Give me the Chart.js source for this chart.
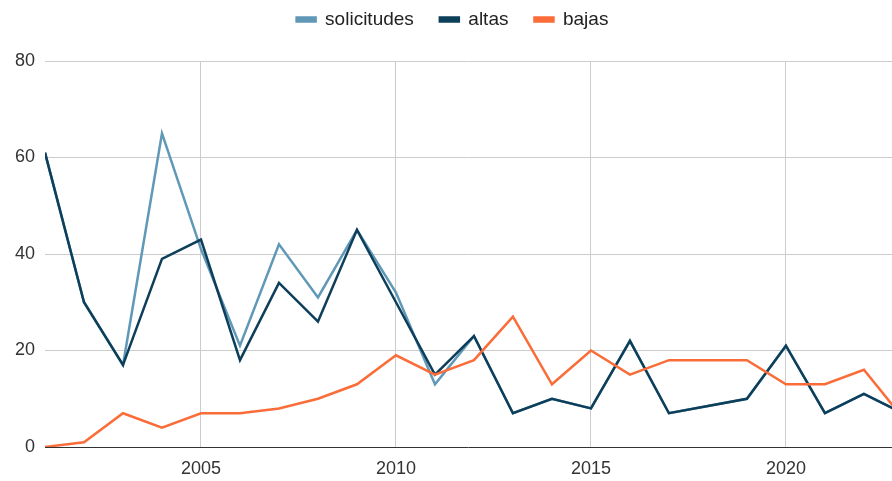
<!DOCTYPE html>
<html lang="es">
<head>
    <meta charset="UTF-8">
    <title>solicitudes, altas y bajas</title>
    <script src="https://cdn.jsdelivr.net/npm/chart.js@4.4.3/dist/chart.umd.min.js"></script>
    <style>
        * { margin: 0; padding: 0; }
        html, body { width: 892px; height: 481px; background: #fff; overflow: hidden; }
        .chartBox { width: 892px; height: 481px; }
    </style>
</head>
<body>
<div class="chartBox">
    <canvas id="myChart"></canvas>
</div>
<script>
    const years = [2001, 2002, 2003, 2004, 2005, 2006, 2007, 2008, 2009, 2010, 2011, 2012,
                   2013, 2014, 2015, 2016, 2017, 2018, 2019, 2020, 2021, 2022, 2023];
    const solicitudes = [61, 30, 17, 65, 41, 21, 42, 31, 45, 32, 13, 23,
                         7, 10, 8, 22, 7, 8.5, 10, 21, 7, 11, 7];
    const altas = [61, 30, 17, 39, 43, 18, 34, 26, 45, 30, 15, 23,
                   7, 10, 8, 22, 7, 8.5, 10, 21, 7, 11, 7];
    const bajas = [0, 1, 7, 4, 7, 7, 8, 10, 13, 19, 15, 18,
                   27, 13, 20, 15, 18, 18, 18, 13, 13, 16, 6];
    const xTicks = [2005, 2010, 2015, 2020];
    const yTicks = [0, 20, 40, 60, 80];

    const toPoints = (vals) => years.map((y, i) => ({ x: y, y: vals[i] }));

    // order: lower number is drawn on top
    const line = (label, vals, color, order) => ({
        label: label,
        data: toPoints(vals),
        borderColor: color,
        backgroundColor: color,
        borderWidth: 2.5,
        pointRadius: 0,
        pointHoverRadius: 0,
        tension: 0,
        order: order
    });

    // extra space under the legend
    const legendMargin = {
        id: 'legendMargin',
        beforeInit(chart) {
            const fit = chart.legend.fit;
            chart.legend.fit = function () {
                fit.bind(chart.legend)();
                this.height += 22;
            };
        }
    };

    Chart.defaults.font.family = "'Liberation Sans', Arial, sans-serif";
    Chart.defaults.color = '#333';

    new Chart(document.getElementById('myChart'), {
        type: 'line',
        data: {
            datasets: [
                line('solicitudes', solicitudes, '#6098b7', 2),
                line('altas', altas, '#0e3f5a', 1),
                line('bajas', bajas, '#fa6c38', 0)
            ]
        },
        options: {
            responsive: true,
            maintainAspectRatio: false,
            animation: false,
            layout: { padding: { top: -16, right: 0, left: 13, bottom: 0 } },
            plugins: {
                tooltip: { enabled: false },
                legend: {
                    position: 'top',
                    labels: {
                        boxWidth: 19,
                        boxHeight: 4,
                        padding: 26,
                        color: '#222',
                        font: { size: 19 },
                        sort: (a, b) => a.datasetIndex - b.datasetIndex
                    }
                }
            },
            scales: {
                x: {
                    type: 'linear',
                    min: 2001,
                    max: 2022.72,
                    afterBuildTicks: (scale) => {
                        scale.ticks = xTicks.map(v => ({ value: v }));
                    },
                    afterFit: (scale) => { scale.height = 34; },
                    ticks: {
                        font: { size: 18 },
                        color: '#333',
                        padding: 11,
                        maxRotation: 0,
                        callback: (v) => String(v)
                    },
                    grid: { color: '#cccccc', drawTicks: false },
                    border: { display: false }
                },
                y: {
                    min: 0,
                    max: 80,
                    afterBuildTicks: (scale) => {
                        scale.ticks = yTicks.map(v => ({ value: v }));
                    },
                    afterFit: (scale) => { scale.width = 32; },
                    ticks: {
                        font: { size: 18 },
                        color: '#333',
                        padding: 10
                    },
                    grid: {
                        color: (ctx) => ctx.tick && ctx.tick.value === 0 ? '#333' : '#cccccc',
                        drawTicks: false
                    },
                    border: { display: false }
                }
            }
        },
        plugins: [legendMargin]
    });
</script>
</body>
</html>
